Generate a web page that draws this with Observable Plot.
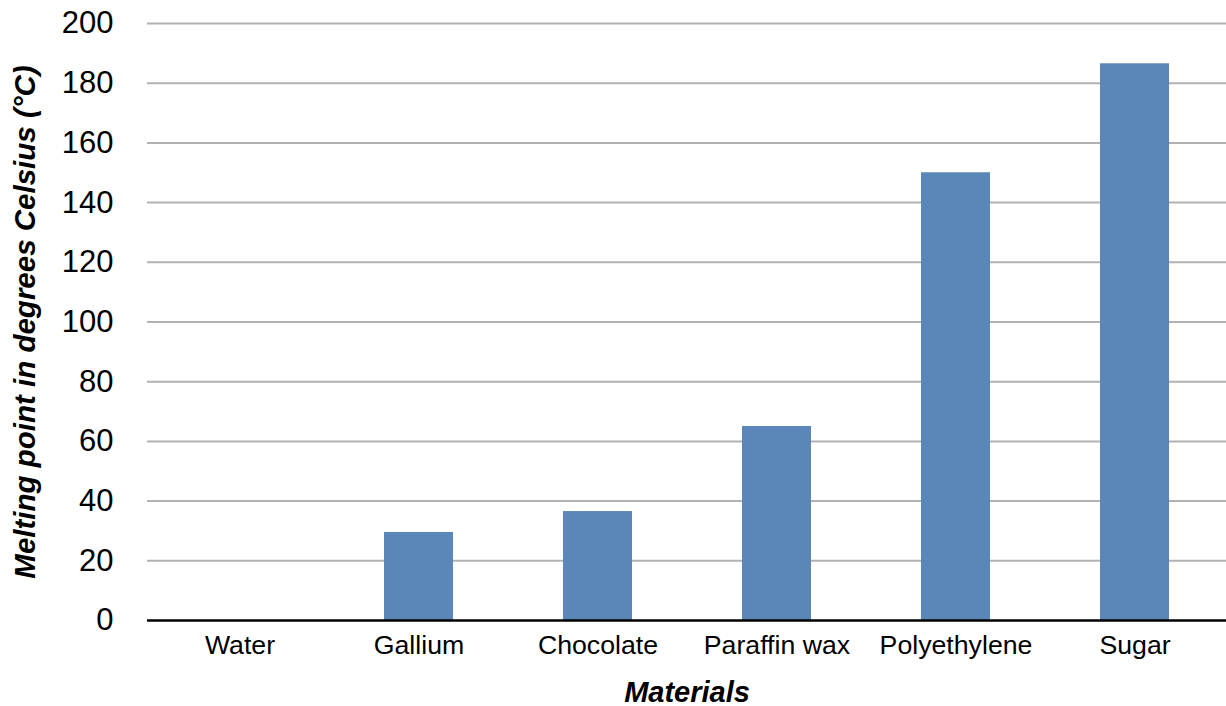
<!DOCTYPE html>
<html>
<head>
<meta charset="utf-8">
<script src="https://cdn.jsdelivr.net/npm/d3@7"></script>
<script src="https://cdn.jsdelivr.net/npm/@observablehq/plot@0.6"></script>
<style>
  html, body { margin: 0; padding: 0; background: #fff; }
  #chart svg { display: block; }
</style>
</head>
<body>
<div id="chart"></div>
<script>
const materials = ["Water", "Gallium", "Chocolate", "Paraffin wax", "Polyethylene", "Sugar"];
const meltingPoints = [0, 29.5, 36.5, 65, 150, 186.5];
const yTicks = [0, 20, 40, 60, 80, 100, 120, 140, 160, 180, 200];
const xTitle = "Materials";
const yTitle = "Melting point in degrees Celsius (°C)";

const data = materials.map((m, i) => ({material: m, value: meltingPoints[i]}));

const chart = Plot.plot({
  width: 1226,
  height: 706,
  marginLeft: 147,
  marginRight: 0,
  marginTop: 23,
  marginBottom: 86,
  style: {fontFamily: "'Liberation Sans', Arial, Helvetica, sans-serif", color: "#000", background: "#fff"},
  x: {domain: materials, paddingInner: 0.615, paddingOuter: 0.3075, label: null},
  y: {domain: [0, 200], label: null},
  marks: [
    Plot.ruleY(yTicks.filter(d => d > 0), {stroke: "#b2b2b2", strokeWidth: 2}),
    Plot.barY(data, {x: "material", y: "value", fill: "#5b87b8"}),
    Plot.ruleY([0], {stroke: "#000", strokeWidth: 2.5}),
    Plot.axisY({ticks: yTicks, tickSize: 0, tickPadding: 34, fontSize: 31, label: null}),
    Plot.axisX({tickSize: 0, tickPadding: 15, fontSize: 26.7, label: null}),
    Plot.text([xTitle], {frameAnchor: "bottom", dy: 81, fontSize: 29, fontWeight: "bold", fontStyle: "italic", lineAnchor: "bottom"}),
    Plot.text([yTitle], {frameAnchor: "left", textAnchor: "middle", dx: -122, rotate: -90, fontSize: 29.5, fontWeight: "bold", fontStyle: "italic"})
  ]
});
document.getElementById("chart").appendChild(chart);
</script>
</body>
</html>
